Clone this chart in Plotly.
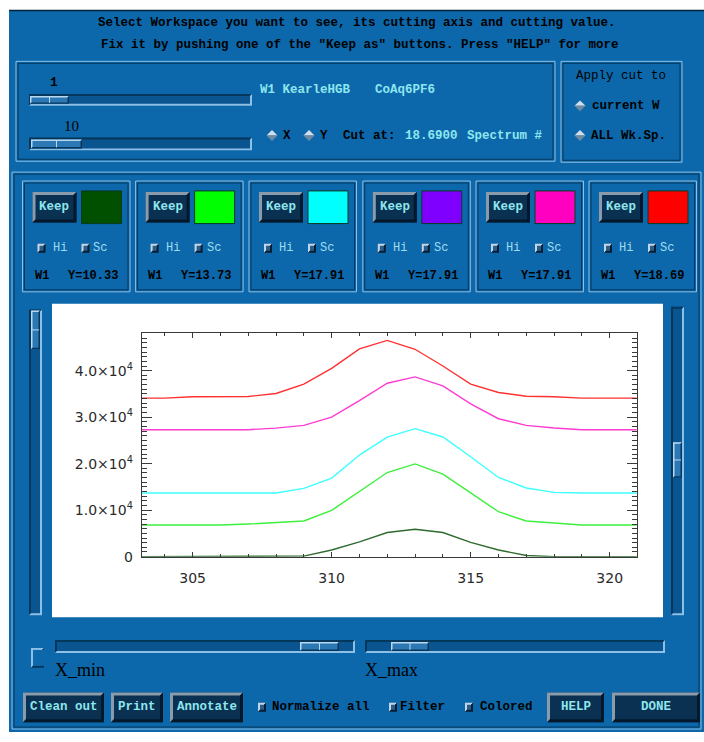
import plotly.graph_objects as go

W, H = 704, 742

# channel positions (x) and the five kept cuts (counts)
energy = [303, 304, 305, 306, 307, 308, 309, 310, 311, 312, 313, 314, 315, 316, 317, 318, 319, 320, 321]
cut_y1033 = [0, 0, 0, 0, 0, 0, 120, 1430, 3190, 5190, 5890, 5190, 3060, 1430, 250, 0, 0, 0, 0]
cut_y1373 = [6810, 6810, 6810, 6810, 7020, 7320, 7660, 9940, 14040, 18090, 19940, 17740, 13700, 9660, 7660, 7170, 6810, 6810, 6810]
cut_y1791a = [13700, 13700, 13700, 13700, 13700, 13700, 14680, 16900, 21850, 25700, 27530, 25740, 21490, 17020, 14770, 13830, 13700, 13700, 13700]
cut_y1791c = [27300, 27300, 27300, 27300, 27300, 27650, 28230, 30000, 33550, 37300, 38660, 36740, 32850, 29660, 28230, 27660, 27300, 27300, 27300]
cut_y1869 = [34100, 34100, 34400, 34400, 34450, 35100, 37100, 40500, 44700, 46500, 44600, 41000, 37100, 35300, 34500, 34400, 34100, 34100, 34100]

series = [cut_y1033, cut_y1373, cut_y1791a, cut_y1791c, cut_y1869]
line_colors = ["#2f6b2f", "#3cf03c", "#3cffff", "#ff3cd2", "#ff3030"]

# keep slots
slot_colors = ["#005000", "#00ff00", "#00ffff", "#8000ff", "#ff00c0", "#ff0000"]
slot_labels = ["Y=10.33", "Y=13.73", "Y=17.91", "Y=17.91", "Y=17.91", "Y=18.69"]

ytick_vals = [0, 10000, 20000, 30000, 40000]
ytick_text = ["0", "1.0×10<sup>4</sup>", "2.0×10<sup>4</sup>", "3.0×10<sup>4</sup>", "4.0×10<sup>4</sup>"]
xtick_vals = [305, 310, 315, 320]

MONO = "Liberation Mono"
BG = "#0c68ab"
TROUGH = "#0a5590"
LIGHT = "#8cc0e6"
DARK = "#05375c"
BTN = "#0a3152"
BTN_LIGHT = "#8a9cab"
BTN_DARK = "#03182a"
CYAN_TXT = "#8ee6ee"

shapes = []
annos = []


def X(p):
    return p / W


def Y(p):
    return 1 - p / H


def rect(x0, y0, x1, y1, fill=None, line=None, lw=1):
    shapes.append(dict(type="rect", xref="paper", yref="paper",
                       x0=X(x0), x1=X(x1), y0=Y(y1), y1=Y(y0),
                       fillcolor=fill or "rgba(0,0,0,0)",
                       line=dict(color=line or "rgba(0,0,0,0)", width=lw if line else 0),
                       layer="below"))


def poly(pts, fill=None, line=None, lw=1, closed=True):
    d = "M " + " L ".join(f"{X(a):.5f},{Y(b):.5f}" for a, b in pts) + (" Z" if closed else "")
    shapes.append(dict(type="path", xref="paper", yref="paper", path=d,
                       fillcolor=fill or "rgba(0,0,0,0)",
                       line=dict(color=line or "rgba(0,0,0,0)", width=lw if line else 0),
                       layer="below"))


def bevel(x0, y0, x1, y1, fill, tl, br, bw=2):
    rect(x0, y0, x1, y1, fill=fill)
    poly([(x0, y1), (x0, y0), (x1, y0), (x1 - bw, y0 + bw), (x0 + bw, y0 + bw), (x0 + bw, y1 - bw)], fill=tl)
    poly([(x1, y0), (x1, y1), (x0, y1), (x0 + bw, y1 - bw), (x1 - bw, y1 - bw), (x1 - bw, y0 + bw)], fill=br)


def text(x, y, s, size=12.5, color="black", bold=True, family=MONO, anchor="left"):
    annos.append(dict(xref="paper", yref="paper", x=X(x), y=Y(y),
                      text=f"<b>{s}</b>" if bold else s, showarrow=False,
                      xanchor=anchor, yanchor="middle", borderpad=0,
                      font=dict(family=family, size=size, color=color)))


def frame(x0, y0, x1, y1):
    rect(x0, y0, x1, y1, line=LIGHT, lw=1)
    rect(x0 + 2, y0 + 2, x1 - 2, y1 - 2, line=DARK, lw=1)


def hslider(x0, y0, x1, y1, t0, t1):
    bevel(x0, y0, x1, y1, TROUGH, DARK, LIGHT, bw=2)
    bevel(t0, y0 + 2, t1, y1 - 2, "#2c78b4", "#b8d8f0", DARK, bw=1.5)
    tm = (t0 + t1) / 2
    poly([(tm, y0 + 3), (tm, y1 - 3)], line="#b8d8f0", lw=1, closed=False)


def vslider(x0, y0, x1, y1, t0, t1):
    bevel(x0, y0, x1, y1, TROUGH, DARK, LIGHT, bw=2)
    bevel(x0 + 2, t0, x1 - 2, t1, "#2c78b4", "#b8d8f0", DARK, bw=1.5)
    tm = (t0 + t1) / 2
    poly([(x0 + 3, tm), (x1 - 3, tm)], line="#b8d8f0", lw=1, closed=False)


def button(x0, y0, x1, y1, label):
    bevel(x0, y0, x1, y1, BTN, BTN_LIGHT, BTN_DARK, bw=3)
    text((x0 + x1) / 2, (y0 + y1) / 2, label, size=12.5, color=CYAN_TXT, anchor="center")


def check(x, y):
    bevel(x, y - 4.5, x + 8, y + 4.5, "#2a5f8c", "#c4d6e6", "#041e36", bw=2)


def diamond(cx, cy, r=5.5):
    poly([(cx - r, cy), (cx, cy - r), (cx + r, cy)], fill="#d2dde8")
    poly([(cx - r, cy), (cx, cy + r), (cx + r, cy)], fill="#6e8aa2")


# window background
rect(9, 10, 704, 740, fill=BG)
poly([(9, 10.5), (704, 10.5)], line="#02203a", lw=1.5, closed=False)

# header
text(357, 23, "Select Workspace you want to see, its cutting axis and cutting value.", anchor="center")
text(360, 45, 'Fix it by pushing one of the "Keep as" buttons. Press "HELP" for more', anchor="center")

# workspace / spectrum selector
frame(16, 62, 555, 163)
text(49, 83, "1", size=13)
hslider(29, 95, 252, 107, 30, 69)
text(63, 127, "10", size=15, bold=False, family="Liberation Serif")
hslider(29, 139, 252, 152, 31, 82)
text(259, 91, "W1 KearleHGB", color=CYAN_TXT)
text(374, 91, "CoAq6PF6", color=CYAN_TXT)
diamond(272, 137)
text(282, 137, "X")
diamond(309, 137)
text(319, 137, "Y")
text(342, 137, "Cut at:")
text(404, 137, "18.6900", color=CYAN_TXT)
text(466, 137, "Spectrum #", color=CYAN_TXT)

# apply cut group
frame(561, 62, 682, 164)
text(575, 77, "Apply cut to", bold=False)
diamond(580, 107)
text(591, 107, "current W")
diamond(580, 137)
text(590, 137, "ALL Wk.Sp.")

# lower panel
rect(12, 174, 701, 737, line=LIGHT, lw=1)
rect(14, 176, 699, 735, line=DARK, lw=1)

# keep slots
slot_left = [22.5, 135.6, 249, 362.8, 476, 589]
for L, col, lab in zip(slot_left, slot_colors, slot_labels):
    frame(L, 183, L + 107.5, 295)
    button(L + 10, 194, L + 54, 225, "Keep")
    rect(L + 59, 193, L + 99, 226, fill=col, line="#0a3a20", lw=1)
    check(L + 15, 251)
    text(L + 29, 251, "Hi", size=12, color="#9fdcef", bold=False)
    check(L + 59, 251)
    text(L + 70, 251, "Sc", size=12, color="#9fdcef", bold=False)
    text(L + 11, 279, "W1", size=12)
    text(L + 44, 279, lab, size=12)

# plot canvas and scroll bars
rect(52, 307, 663, 624, fill="white")
vslider(29, 313, 42, 622, 314, 353)
vslider(671, 310, 684, 622, 447, 483)

# x range sliders
bevel(31, 655, 44, 675, BG, LIGHT, DARK, bw=2)
rect(33, 657, 44, 673, fill=BG)
hslider(55, 647, 355, 660, 300, 339)
hslider(365, 647, 665, 660, 391, 429)
text(54, 677, "X_min", size=18, bold=False, family="Liberation Serif")
text(364, 677, "X_max", size=18, bold=False, family="Liberation Serif")

# bottom controls
button(23, 700, 104, 730, "Clean out")
button(111, 700, 163, 730, "Print")
button(170, 700, 243, 730, "Annotate")
check(258, 715)
text(271, 715, "Normalize all")
check(389, 715)
text(399, 715, "Filter")
check(465, 715)
text(479, 715, "Colored")
button(547, 700, 604, 730, "HELP")
button(612, 700, 700, 730, "DONE")

fig = go.Figure()
for vals, col in zip(series, line_colors):
    fig.add_trace(go.Scatter(x=energy, y=vals, mode="lines",
                             line=dict(color=col, width=1.4), hoverinfo="skip"))

px0, px1 = 141.7, 636.7
py0, py1 = 336.7, 562.7
axis_common = dict(showline=True, linecolor="#3a3a3a", linewidth=1, mirror="allticks",
                   ticks="inside", tickcolor="#3a3a3a", showgrid=False, zeroline=False,
                   tickfont=dict(family="DejaVu Sans", size=14, color="#2a2a2a"))
fig.update_layout(
    width=W, height=H, margin=dict(l=0, r=0, t=0, b=0),
    paper_bgcolor="white", plot_bgcolor="rgba(0,0,0,0)",
    showlegend=False, shapes=shapes, annotations=annos,
    xaxis=dict(domain=[px0 / W, px1 / W], range=[303.17, 320.97],
               tickvals=xtick_vals, ticklen=5, ticklabelstandoff=9,
               minor=dict(dtick=1, ticklen=2.5, ticks="inside", tickcolor="#3a3a3a"),
               **axis_common),
    yaxis=dict(domain=[1 - py1 / H, 1 - py0 / H], range=[0, 48085],
               tickvals=ytick_vals, ticktext=ytick_text, ticklen=10, ticklabelstandoff=5,
               minor=dict(dtick=1000, ticklen=5, ticks="inside", tickcolor="#3a3a3a"),
               **axis_common),
)
fig.write_html("out.html")
